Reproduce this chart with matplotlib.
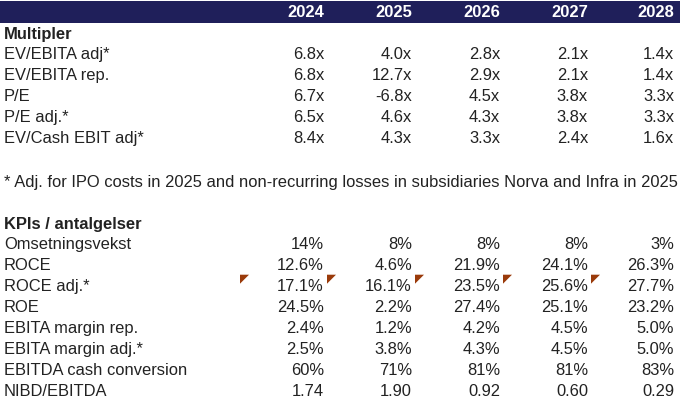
import matplotlib
matplotlib.use("Agg")
import matplotlib.pyplot as plt

plt.rcParams['font.family'] = ['Liberation Sans', 'DejaVu Sans']

years = ["2024", "2025", "2026", "2027", "2028"]

multi_labels = ["EV/EBITA adj*", "EV/EBITA rep.", "P/E", "P/E adj.*", "EV/Cash EBIT adj*"]
multi_values = [
    ["6.8x", "4.0x", "2.8x", "2.1x", "1.4x"],
    ["6.8x", "12.7x", "2.9x", "2.1x", "1.4x"],
    ["6.7x", "-6.8x", "4.5x", "3.8x", "3.3x"],
    ["6.5x", "4.6x", "4.3x", "3.8x", "3.3x"],
    ["8.4x", "4.3x", "3.3x", "2.4x", "1.6x"],
]

footnote = "* Adj. for IPO costs in 2025 and non-recurring losses in subsidiaries Norva and Infra in 2025"

kpi_labels = ["Omsetningsvekst", "ROCE", "ROCE adj.*", "ROE", "EBITA margin rep.",
              "EBITA margin adj.*", "EBITDA cash conversion", "NIBD/EBITDA"]
kpi_values = [
    ["14%", "8%", "8%", "8%", "3%"],
    ["12.6%", "4.6%", "21.9%", "24.1%", "26.3%"],
    ["17.1%", "16.1%", "23.5%", "25.6%", "27.7%"],
    ["24.5%", "2.2%", "27.4%", "25.1%", "23.2%"],
    ["2.4%", "1.2%", "4.2%", "4.5%", "5.0%"],
    ["2.5%", "3.8%", "4.3%", "4.5%", "5.0%"],
    ["60%", "71%", "81%", "81%", "83%"],
    ["1.74", "1.90", "0.92", "0.60", "0.29"],
]

# cells in "ROCE adj.*" row carrying a comment marker (column index, -1 = before 2024)
comment_row = "ROCE adj.*"
comment_cols = [-1, 0, 1, 2, 3]

# layout (pixels)
W, H = 680, 403
col_right = [324, 412, 500, 588, 674]
comment_x = [240, 327, 415, 503, 591]
row_h = 20.9
fs = 11.9
txt = "#222222"
navy = "#1f1f5a"
red = "#9a3a0a"

fig = plt.figure(figsize=(W / 100, H / 100), dpi=100)
ax = fig.add_axes([0, 0, 1, 1])
ax.set_xlim(0, W)
ax.set_ylim(H, 0)
ax.axis("off")

# header bar
ax.fill_between([0, W], 1, 23, color=navy, lw=0)
for yr, xr in zip(years, col_right):
    ax.text(xr, 12.5, yr, ha="right", va="center", fontsize=fs, color="white", fontweight="bold")

y = 34
ax.text(4, y, "Multipler", ha="left", va="center", fontsize=fs, color=txt, fontweight="bold")
for lab, vals in zip(multi_labels, multi_values):
    y += row_h
    ax.text(4, y, lab, ha="left", va="center", fontsize=fs, color=txt)
    for v, xr in zip(vals, col_right):
        ax.text(xr, y, v, ha="right", va="center", fontsize=fs, color=txt)

ax.text(4, 182.5, footnote, ha="left", va="center", fontsize=fs, color=txt)

y = 224
ax.text(4, y, "KPIs / antalgelser", ha="left", va="center", fontsize=fs, color=txt, fontweight="bold")
for lab, vals in zip(kpi_labels, kpi_values):
    y += row_h
    ax.text(4, y, lab, ha="left", va="center", fontsize=fs, color=txt)
    for v, xr in zip(vals, col_right):
        ax.text(xr, y, v, ha="right", va="center", fontsize=fs, color=txt)
    if lab == comment_row:
        top = y - 12
        for c in comment_cols:
            x0 = comment_x[c + 1]
            ax.fill([x0, x0 + 9, x0], [top, top, top + 9], color=red, lw=0)

fig.savefig("out.png", dpi=100)
